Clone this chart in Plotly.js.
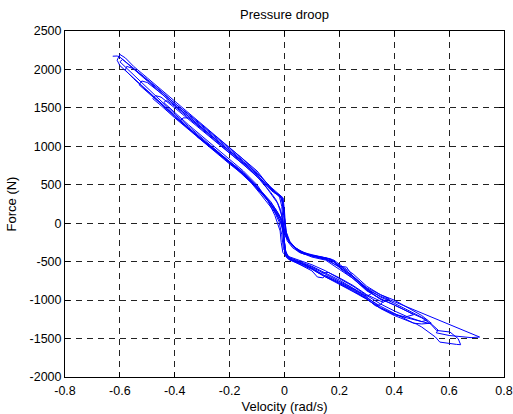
<!DOCTYPE html>
<html>
<head>
<meta charset="utf-8">
<script src="https://cdn.plot.ly/plotly-3.0.1.min.js"></script>
<style>html,body{margin:0;padding:0;background:#fff;}#chart{width:513px;height:414px;}</style>
</head>
<body>
<div id="chart"></div>
<script>
// Velocity (rad/s) and Force (N) samples, traced cycle by cycle (R = moving right, L = moving left)
var c1rX = [-0.626,-0.61,-0.6,-0.55,-0.5,-0.45,-0.4,-0.35,-0.3,-0.25,-0.2,-0.15,-0.1,-0.07,-0.04,-0.02,-0.008,-0.003,0.0,0.004,0.015,0.04,0.07,0.1,0.15,0.2,0.25,0.3,0.35,0.4,0.5,0.6,0.66,0.711];
var c1rY = [2172,2175,2160,2020,1870,1720,1560,1420,1270,1120,980,830,660,540,420,370,330,200,50,-100,-220,-330,-400,-420,-460,-570,-700,-860,-950,-1020,-1170,-1320,-1400,-1480];
var c1lX = [0.68,0.6,0.553,0.56,0.535,0.5,0.45,0.4,0.35,0.33,0.3,0.25,0.2,0.15,0.1,0.05,0.02,0.005,0.0,-0.003,-0.01,-0.03,-0.05,-0.07,-0.1,-0.15,-0.2,-0.25,-0.3,-0.35,-0.4,-0.45,-0.5,-0.55,-0.6,-0.61];
var c1lY = [-1488,-1460,-1425,-1390,-1310,-1280,-1240,-1190,-1100,-1070,-980,-880,-790,-690,-590,-510,-470,-420,-300,-100,50,170,270,350,480,660,800,950,1090,1240,1400,1570,1730,1890,2050,2120];

var c2rX = [-0.6,-0.58,-0.55,-0.5,-0.45,-0.4,-0.35,-0.3,-0.25,-0.2,-0.15,-0.1,-0.06,-0.035,-0.018,-0.01,-0.006,0.0,0.02,0.05,0.1,0.15,0.2,0.25,0.3,0.35,0.45,0.5,0.53,0.554,0.603,0.633,0.642];
var c2rY = [2195,2150,2040,1890,1740,1580,1440,1290,1140,990,840,680,500,400,340,220,80,-150,-260,-370,-440,-480,-600,-720,-880,-980,-1150,-1230,-1300,-1394,-1415,-1502,-1580];
var c2lX = [0.627,0.566,0.55,0.5,0.48,0.45,0.4,0.35,0.3,0.25,0.2,0.15,0.1,0.05,0.02,0.006,0.002,-0.004,-0.012,-0.03,-0.06,-0.1,-0.15,-0.2,-0.25,-0.3,-0.35,-0.4,-0.45,-0.5,-0.55,-0.58];
var c2lY = [-1576,-1546,-1480,-1350,-1310,-1270,-1200,-1110,-990,-890,-800,-700,-600,-520,-480,-440,-300,-120,40,150,300,470,650,790,940,1080,1230,1390,1560,1720,1880,1990];

var c3rX = [-0.575,-0.55,-0.5,-0.45,-0.4,-0.35,-0.3,-0.25,-0.2,-0.15,-0.1,-0.07,-0.045,-0.025,-0.012,-0.004,0.008,0.03,0.06,0.1,0.14,0.17,0.2,0.226,0.247,0.3,0.35,0.4,0.45,0.5,0.535];
var c3rY = [2040,2010,1860,1700,1550,1400,1250,1100,960,810,640,480,360,260,120,-40,-200,-290,-370,-410,-440,-465,-560,-570,-679,-840,-930,-1000,-1100,-1200,-1300];
var c3lX = [0.5,0.47,0.4,0.35,0.3,0.25,0.2,0.15,0.14,0.12,0.1,0.05,0.02,0.004,0.0,-0.005,-0.015,-0.04,-0.07,-0.1,-0.15,-0.2,-0.25,-0.3,-0.35,-0.4,-0.45,-0.5,-0.53];
var c3lY = [-1310,-1300,-1170,-1080,-970,-860,-770,-680,-710,-700,-620,-530,-470,-410,-250,-80,60,200,330,450,640,780,930,1070,1220,1380,1550,1700,1800];

var c4rX = [-0.52,-0.5,-0.45,-0.4,-0.35,-0.3,-0.25,-0.2,-0.15,-0.1,-0.08,-0.05,-0.025,-0.01,-0.004,0.002,0.01,0.03,0.07,0.1,0.15,0.18,0.2,0.25,0.3,0.35,0.4,0.45,0.47];
var c4rY = [1850,1830,1690,1530,1390,1240,1090,940,790,620,550,440,380,340,180,-20,-200,-300,-390,-420,-450,-490,-580,-720,-870,-990,-1060,-1150,-1190];
var c4lX = [0.44,0.4,0.35,0.3,0.25,0.2,0.15,0.1,0.05,0.02,0.01,-0.004,-0.01,-0.02,-0.04,-0.06,-0.1,-0.15,-0.2,-0.25,-0.3,-0.35,-0.4,-0.45,-0.48];
var c4lY = [-1220,-1180,-1100,-960,-850,-760,-660,-570,-500,-455,-420,-330,-150,20,180,300,460,630,770,920,1060,1210,1370,1530,1620];

var c5rX = [-0.47,-0.45,-0.4,-0.35,-0.3,-0.25,-0.2,-0.15,-0.1,-0.07,-0.04,-0.015,-0.006,0.0,0.006,0.02,0.05,0.09,0.13,0.18,0.22,0.26,0.3,0.33,0.36];
var c5rY = [1660,1640,1500,1350,1210,1060,910,770,600,500,400,350,250,60,-150,-250,-350,-410,-450,-500,-600,-720,-850,-940,-1010];
var c5lX = [0.35,0.335,0.3,0.25,0.2,0.15,0.12,0.1,0.06,0.03,0.01,-0.006,-0.012,-0.016,-0.035,-0.06,-0.09,-0.12,-0.15,-0.2,-0.25,-0.3,-0.35,-0.38];
var c5lY = [-1060,-1069,-990,-870,-780,-700,-640,-590,-520,-480,-440,-380,-250,-100,100,290,420,540,640,790,940,1090,1240,1330];

var c6rX = [-0.37,-0.35,-0.3,-0.25,-0.2,-0.15,-0.1,-0.06,-0.03,-0.01,-0.003,0.004,0.015,0.04,0.08,0.12,0.16,0.2,0.25,0.3,0.32];
var c6rY = [1370,1370,1230,1080,930,790,630,480,390,320,100,-120,-230,-320,-400,-430,-460,-550,-690,-870,-910];
var c6lX = [0.3,0.25,0.2,0.15,0.1,0.05,0.02,0.004,-0.002,-0.008,-0.025,-0.05,-0.08,-0.12,-0.16,-0.2,-0.25,-0.3,-0.35,-0.4,-0.45,-0.5,-0.55,-0.59,-0.6];
var c6lY = [-950,-840,-740,-650,-560,-490,-450,-380,-150,30,140,280,400,550,690,800,950,1100,1260,1420,1590,1760,1920,2060,2100];

var c7rX = [-0.59,-0.55,-0.5,-0.45,-0.4,-0.35,-0.3,-0.25,-0.2,-0.15,-0.1,-0.05,-0.02,-0.005,0.0,0.005,0.02,0.05,0.1,0.15,0.2,0.25,0.3,0.35,0.4,0.45,0.5,0.52];
var c7rY = [2130,2000,1850,1690,1540,1380,1230,1080,940,800,650,470,380,330,150,-100,-240,-360,-430,-470,-570,-700,-850,-960,-1040,-1130,-1220,-1260];
var c7lX = [0.5,0.45,0.4,0.35,0.3,0.25,0.2,0.15,0.1,0.06,0.03,0.012,0.004,-0.002,-0.008,-0.02,-0.04,-0.07,-0.1,-0.15,-0.2,-0.25,-0.3,-0.35,-0.4,-0.44];
var c7lY = [-1280,-1220,-1140,-1050,-940,-820,-720,-620,-540,-490,-460,-430,-350,-200,-60,60,190,340,500,680,830,970,1120,1280,1440,1570];

var c8rX = [-0.43,-0.4,-0.35,-0.3,-0.25,-0.2,-0.15,-0.1,-0.075,-0.05,-0.03,-0.015,-0.006,0.0,0.01,0.03,0.06,0.1,0.13,0.15,0.18,0.21,0.25,0.3,0.35,0.38];
var c8rY = [1600,1520,1370,1220,1070,920,770,610,500,400,300,180,40,-100,-230,-320,-390,-420,-440,-462,-480,-560,-660,-820,-930,-980];
var c8lX = [0.36,0.3,0.25,0.2,0.16,0.13,0.11,0.08,0.04,0.015,0.003,-0.002,-0.006,-0.012,-0.03,-0.06,-0.09,-0.12,-0.16,-0.2,-0.25,-0.3,-0.32];
var c8lY = [-1030,-930,-810,-710,-640,-650,-600,-550,-500,-470,-420,-300,-120,0,120,260,390,520,660,790,930,1070,1130];

var xTickVals = [-0.8,-0.6,-0.4,-0.2,0,0.2,0.4,0.6,0.8];
var xTickText = ['-0.8','-0.6','-0.4','-0.2','0','0.2','0.4','0.6','0.8'];
var yTickVals = [-2000,-1500,-1000,-500,0,500,1000,1500,2000,2500];
var yTickText = ['-2000','-1500','-1000','-500','0','500','1000','1500','2000','2500'];

var velocity = [].concat(c1rX,c1lX,c2rX,c2lX,c3rX,c3lX,c4rX,c4lX,c5rX,c5lX,c6rX,c6lX,c7rX,c7lX,c8rX,c8lX);
var force = [].concat(c1rY,c1lY,c2rY,c2lY,c3rY,c3lY,c4rY,c4lY,c5rY,c5lY,c6rY,c6lY,c7rY,c7lY,c8rY,c8lY);

var FONT = 'Liberation Sans, Arial, sans-serif';

var trace = {
  x: velocity, y: force, type: 'scatter', mode: 'lines',
  line: {color: '#0000ff', width: 1},
  hoverinfo: 'skip'
};

var axisCommon = {
  showline: true, linecolor: '#000', linewidth: 1, mirror: 'allticks',
  ticks: 'inside', ticklen: 5, tickcolor: '#000', tickwidth: 1,
  showgrid: true, gridcolor: '#222', gridwidth: 1, griddash: '6px,5px',
  zeroline: false, tickfont: {family: FONT, size: 12.5, color: '#000'},
  fixedrange: true
};

var layout = {
  width: 513, height: 414,
  paper_bgcolor: '#fff', plot_bgcolor: '#fff',
  margin: {l: 65, r: 9, t: 31, b: 37, pad: 0},
  showlegend: false,
  title: {text: 'Pressure droop', font: {family: FONT, size: 13, color: '#000'},
          xref: 'paper', x: 0.5, xanchor: 'center', yref: 'container', y: 0.964, yanchor: 'middle'},
  xaxis: Object.assign({}, axisCommon, {
    range: [-0.8, 0.8], tickmode: 'array', tickvals: xTickVals, ticktext: xTickText,
    ticklabelstandoff: 2,
    title: {text: 'Velocity (rad/s)', font: {family: FONT, size: 13, color: '#000'}, standoff: 4}
  }),
  yaxis: Object.assign({}, axisCommon, {
    range: [-2000, 2500], tickmode: 'array', tickvals: yTickVals, ticktext: yTickText,
    ticklabelstandoff: 0,
    title: {text: 'Force (N)', font: {family: FONT, size: 13, color: '#000'}, standoff: 9}
  })
};

Plotly.newPlot('chart', [trace], layout, {staticPlot: true, displayModeBar: false});
</script>
</body>
</html>
